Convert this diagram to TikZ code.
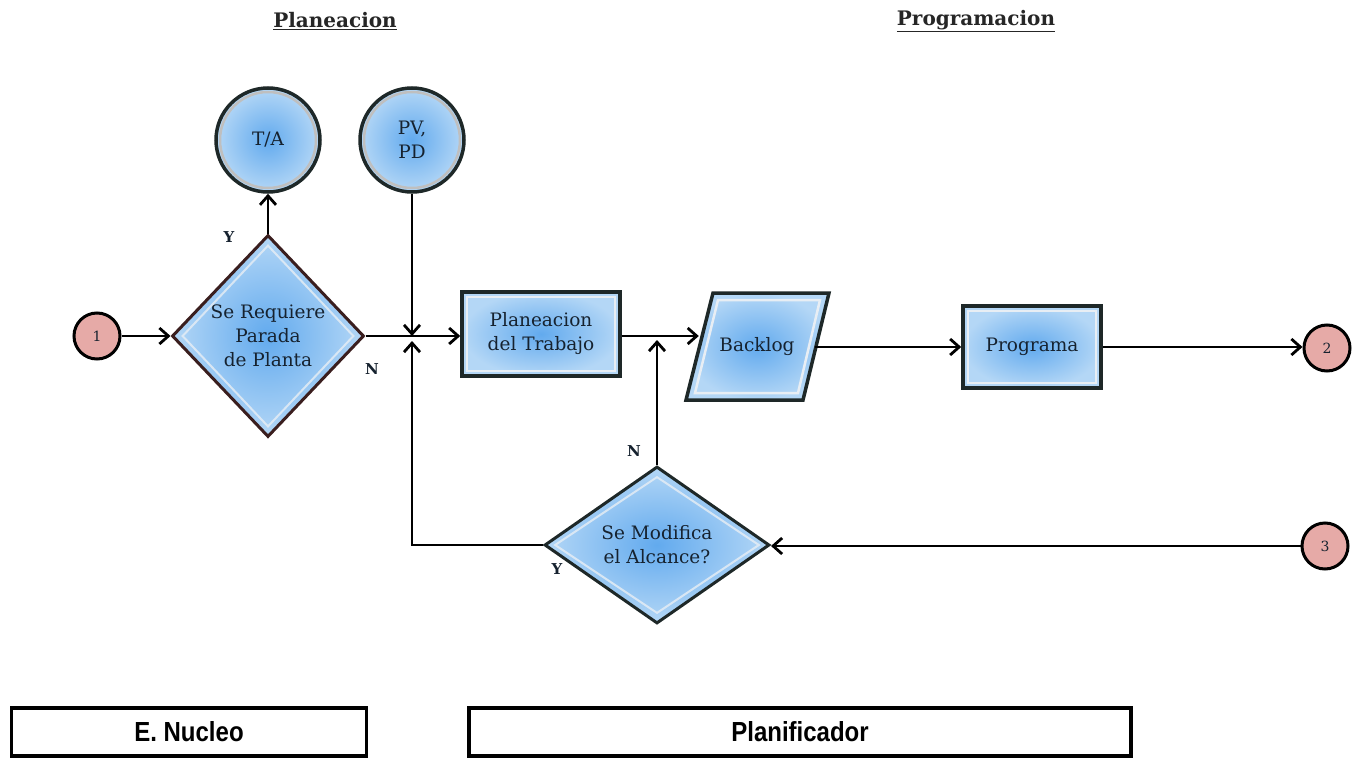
\documentclass[tikz,border=0pt]{standalone}
\usepackage{fontspec}
\setmainfont{DejaVu Serif}
\newfontfamily\boxsans{Liberation Sans}
\usetikzlibrary{shapes.geometric,arrows.meta,calc}

\definecolor{frame}{HTML}{1E2828}
\definecolor{framered}{HTML}{3A1E1E}
\definecolor{bluemid}{HTML}{62AAEE}
\definecolor{blueedge}{HTML}{B4D7F6}
\definecolor{bevel}{HTML}{E8EEF4}
\definecolor{ink}{HTML}{16222F}
\definecolor{pinkfill}{HTML}{E6AAA7}

\tikzset{
  flow/.style={line width=2.8pt, -{Straight Barb[length=9pt,width=16pt]}},
  bluefill/.style={shading=radial, inner color=bluemid, outer color=blueedge},
  txt/.style={text=ink, align=center, font=\fontsize{18.5}{24}\selectfont},
  procbox/.style={rectangle, draw=frame, line width=3.5pt, bluefill, txt,
    path picture={\draw[bevel, line width=2.5pt]
      ([shift={(5pt,5pt)}]path picture bounding box.south west) rectangle
      ([shift={(-5pt,-5pt)}]path picture bounding box.north east);}},
  decision/.style={diamond, draw=frame, line width=3pt, bluefill, txt, inner sep=0pt,
    path picture={\draw[bevel, line width=2pt, opacity=.8]
      ($(path picture bounding box.north)+(0,-10pt)$) --
      ($(path picture bounding box.east)+(-10pt,0)$) --
      ($(path picture bounding box.south)+(0,10pt)$) --
      ($(path picture bounding box.west)+(10pt,0)$) -- cycle;}},
  bubble/.style={circle, draw=frame, line width=3.5pt, bluefill, txt, minimum size=104pt,
    path picture={\draw[gray!50, line width=2.5pt]
      (path picture bounding box.center) circle (48pt);}},
  connector/.style={circle, draw=black, line width=3pt, fill=pinkfill, text=ink,
    minimum size=46pt, inner sep=0pt, font=\fontsize{14}{14}\selectfont},
  branch/.style={text=ink, font=\bfseries\fontsize{15}{15}\selectfont},
  heading/.style={text=black!85, font=\bfseries\fontsize{20}{20}\selectfont},
  rolebox/.style={rectangle, draw=black, line width=3.5pt, minimum height=48pt,
    font=\boxsans\bfseries\fontsize{24}{24}\selectfont}
}

\begin{document}
\begin{tikzpicture}[x=1pt, y=-1pt]
\useasboundingbox (0,0) rectangle (1358,760);

% column headings
\node[heading] (hplan) at (335,21) {\underline{Planeacion}};
\node[heading] (hprog) at (976,21) {\underline{Programacion}};

% entry connector and first decision
\node[connector] (c1) at (97,336) {1};
\node[decision, draw=framered, minimum width=192pt, minimum height=202pt] (d1) at (268,336)
  {Se Requiere\\Parada\\de Planta};
\node[bubble] (ta) at (268,140) {T/A};
\node[bubble] (pv) at (412,140) {PV,\\PD};

% process chain
\node[procbox, minimum width=158pt, minimum height=84pt] (plan) at (541,334)
  {Planeacion\\del Trabajo};

% backlog data shape
\path[bluefill, draw=frame, line width=3.5pt] (686,400) -- (803,400) -- (829,293) -- (713,293) -- cycle;
\draw[bevel, line width=2.5pt] (695,393) -- (798,393) -- (820,300) -- (718,300) -- cycle;
\node[txt, minimum width=116pt, minimum height=107pt, inner sep=0pt] (backlog) at (757,347) {Backlog};

\node[procbox, minimum width=138pt, minimum height=82pt] (prog) at (1032,347) {Programa};
\node[connector] (c2) at (1327,348) {2};

% scope review loop
\node[decision, minimum width=225pt, minimum height=157pt] (d2) at (657,545)
  {Se Modifica\\el Alcance?};
\node[connector] (c3) at (1325,546) {3};

% junction points on the main line
\coordinate (j0) at (d1.east);
\coordinate (j1) at (pv.south |- j0);
\coordinate (j1b) at ($(j1)+(0,-5pt)$);
\coordinate (j2) at ($(d2.north |- j0)+(0,-4pt)$);

% connectors
\draw[flow] (c1) -- (d1.west);
\draw[flow] (d1.north) -- (ta.south);
\draw[flow] (pv.south) -- (j1);
\draw[flow] (d1.east) -- (d1.east -| plan.west);
\draw[flow] (plan.east |- j0) -- (j0 -| backlog.west);
\draw[flow] (backlog.east) -- (prog.west);
\draw[flow] (prog.east) -- (prog.east -| c2.west);
\draw[flow] (c3.west) -- (c3.west -| d2.east);
\draw[flow] (d2.west) -| (j1b);
\draw[flow] (d2.north) -- (j2);

% branch labels
\node[branch] (ly1) at (229,237) {Y};
\node[branch] (ln1) at (372,369) {N};
\node[branch] (ln2) at (634,451) {N};
\node[branch] (ly2) at (557,569) {Y};

% role boxes
\node[rolebox, minimum width=355pt] (nucleo) at (189,732) {\scalebox{1}[1.15]{E.\ Nucleo}};
\node[rolebox, minimum width=662pt] (planif) at (800,732) {\scalebox{1}[1.15]{Planificador}};
\end{tikzpicture}
\end{document}
